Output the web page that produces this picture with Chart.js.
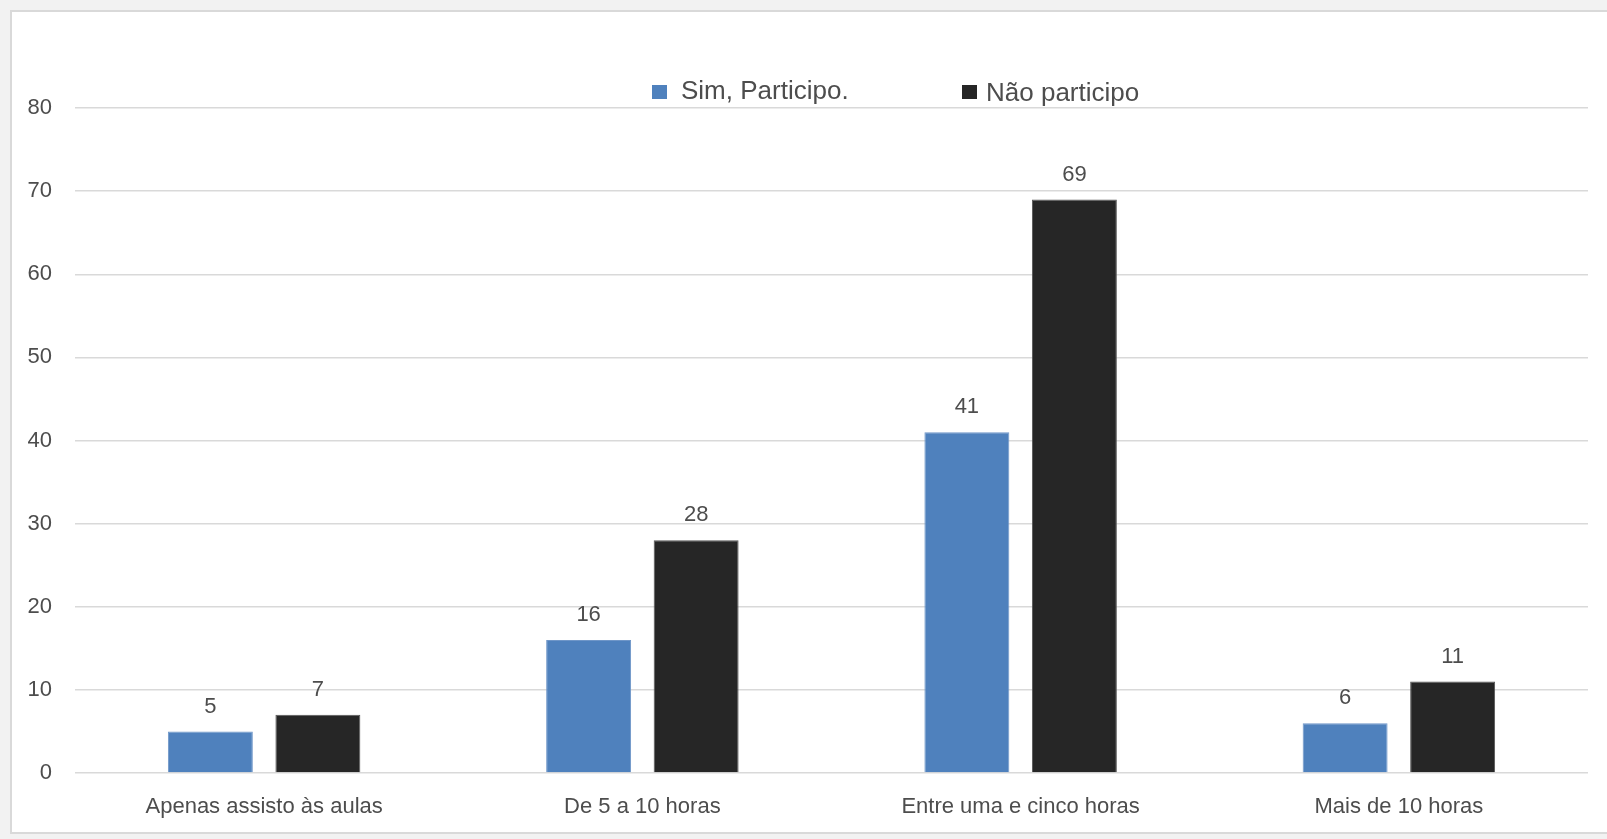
<!DOCTYPE html>
<html>
<head>
<meta charset="utf-8">
<script src="https://cdn.jsdelivr.net/npm/chart.js@4/dist/chart.umd.min.js"></script>
<style>
  html, body { margin: 0; padding: 0; background: #f2f2f2; width: 1607px; height: 839px; overflow: hidden; }
  #frame { position: absolute; left: 10px; top: 10px; width: 1620px; height: 820px; background: #ffffff; border: 2px solid #d9d9d9; }
  #c { position: absolute; left: 0; top: 0; }
</style>
</head>
<body>
<div id="frame"></div>
<canvas id="c" width="1607" height="839"></canvas>
<script>
const categories = ["Apenas assisto às aulas", "De 5 a 10 horas", "Entre uma e cinco horas", "Mais de 10 horas"];
const seriesNames = ["Sim, Participo.", "Não participo"];
const simValues = [5, 16, 41, 6];
const naoValues = [7, 28, 69, 11];
const yTicks = [0, 10, 20, 30, 40, 50, 60, 70, 80];

const FONT = "'Liberation Sans', Arial, sans-serif";
const TEXT = "#4d4d4d";

const valueLabels = {
  id: "valueLabels",
  afterDatasetsDraw(chart) {
    const ctx = chart.ctx;
    ctx.save();
    ctx.font = "22px " + FONT;
    ctx.fillStyle = TEXT;
    ctx.textAlign = "center";
    ctx.textBaseline = "middle";
    chart.data.datasets.forEach((ds, di) => {
      const meta = chart.getDatasetMeta(di);
      meta.data.forEach((bar, i) => {
        ctx.fillText(String(ds.data[i]), bar.x, bar.y - 25);
      });
    });
    ctx.restore();
  }
};

const customLegend = {
  id: "customLegend",
  afterDraw(chart) {
    const ctx = chart.ctx;
    const items = [
      { boxX: 652, textX: 681, textY: 92 },
      { boxX: 962, textX: 986, textY: 93.5 }
    ];
    ctx.save();
    ctx.font = "26px " + FONT;
    ctx.textBaseline = "middle";
    ctx.textAlign = "left";
    chart.data.datasets.forEach((ds, di) => {
      const it = items[di];
      ctx.fillStyle = ds.backgroundColor;
      ctx.fillRect(it.boxX, 85, 15, 14);
      ctx.fillStyle = TEXT;
      ctx.fillText(ds.label, it.textX, it.textY);
    });
    ctx.restore();
  }
};

new Chart(document.getElementById("c"), {
  type: "bar",
  data: {
    labels: categories,
    datasets: [
      { label: seriesNames[0], data: simValues, backgroundColor: "#4f81bd", borderColor: "#6f96c8", borderWidth: 1, categoryPercentage: 0.5685, barPercentage: 0.79 },
      { label: seriesNames[1], data: naoValues, backgroundColor: "#262626", borderColor: "#555555", borderWidth: 1, categoryPercentage: 0.5685, barPercentage: 0.79 }
    ]
  },
  options: {
    responsive: false,
    devicePixelRatio: 1,
    animation: false,
    layout: { padding: { top: 108, right: 19, left: 0, bottom: 0 } },
    plugins: {
      legend: { display: false },
      tooltip: { enabled: false },
      title: { display: false }
    },
    scales: {
      x: {
        grid: { display: false },
        border: { display: false },
        ticks: { color: TEXT, font: { family: FONT, size: 22 }, padding: 13, maxRotation: 0, autoSkip: false },
        afterFit(scale) { scale.height = 66; }
      },
      y: {
        min: 0,
        max: 80,
        afterBuildTicks(scale) { scale.ticks = yTicks.map(v => ({ value: v })); },
        grid: { color: "#d9d9d9", lineWidth: 1.5, drawTicks: false },
        border: { display: false },
        ticks: { color: TEXT, font: { family: FONT, size: 22 }, padding: 23 },
        afterFit(scale) { scale.width = 75; }
      }
    }
  },
  plugins: [valueLabels, customLegend]
});
</script>
</body>
</html>
